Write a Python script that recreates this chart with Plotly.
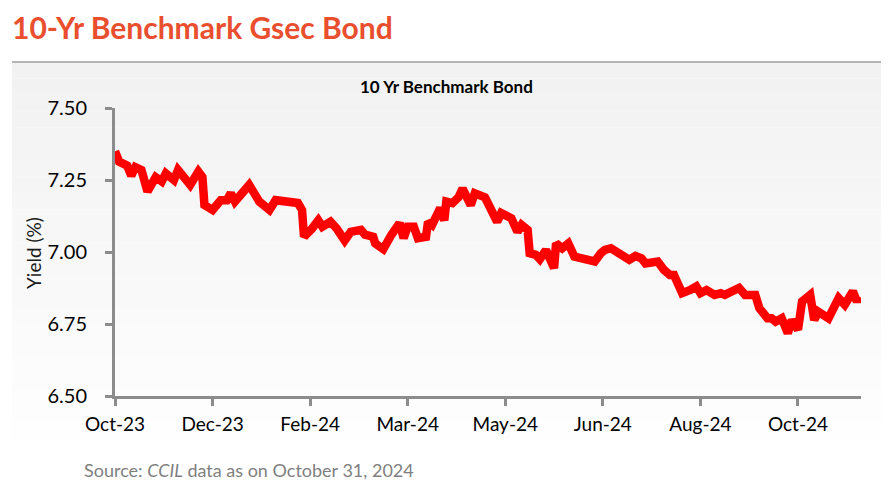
import plotly.graph_objects as go

dates = [
    "2023-10-31", "2023-11-02", "2023-11-06", "2023-11-08", "2023-11-10", "2023-11-13",
    "2023-11-16", "2023-11-20", "2023-11-23", "2023-11-25", "2023-11-29", "2023-12-01",
    "2023-12-07", "2023-12-11", "2023-12-13", "2023-12-14", "2023-12-18", "2023-12-22",
    "2023-12-25", "2023-12-27", "2023-12-29", "2024-01-05", "2024-01-10", "2024-01-15",
    "2024-01-18", "2024-01-23", "2024-01-29", "2024-01-31", "2024-02-01", "2024-02-05",
    "2024-02-08", "2024-02-10", "2024-02-14", "2024-02-17", "2024-02-21", "2024-02-24",
    "2024-02-27", "2024-02-29", "2024-03-02", "2024-03-06", "2024-03-07", "2024-03-11",
    "2024-03-15", "2024-03-19", "2024-03-21", "2024-03-23", "2024-03-26", "2024-03-28",
    "2024-04-01", "2024-04-02", "2024-04-04", "2024-04-08", "2024-04-10", "2024-04-11",
    "2024-04-14", "2024-04-17", "2024-04-19", "2024-04-23", "2024-04-25", "2024-04-30",
    "2024-05-06", "2024-05-08", "2024-05-13", "2024-05-16", "2024-05-18", "2024-05-21",
    "2024-05-22", "2024-05-25", "2024-05-27", "2024-05-30", "2024-06-03", "2024-06-04",
    "2024-06-07", "2024-06-10", "2024-06-13", "2024-06-19", "2024-06-23", "2024-06-26",
    "2024-06-28", "2024-07-01", "2024-07-05", "2024-07-10", "2024-07-13", "2024-07-16",
    "2024-07-18", "2024-07-22", "2024-07-24", "2024-07-27", "2024-07-30", "2024-08-01",
    "2024-08-05", "2024-08-09", "2024-08-12", "2024-08-14", "2024-08-17", "2024-08-21",
    "2024-08-24", "2024-08-26", "2024-08-29", "2024-09-02", "2024-09-05", "2024-09-10",
    "2024-09-12", "2024-09-16", "2024-09-18", "2024-09-20", "2024-09-23", "2024-09-26",
    "2024-09-28", "2024-10-01", "2024-10-03", "2024-10-07", "2024-10-09", "2024-10-11",
    "2024-10-16", "2024-10-18", "2024-10-21", "2024-10-24", "2024-10-28", "2024-10-30",
    "2024-10-31",
]

yields = [
    7.350, 7.314, 7.300, 7.265, 7.295, 7.285,
    7.210, 7.260, 7.245, 7.273, 7.250, 7.285,
    7.233, 7.279, 7.260, 7.163, 7.146, 7.180,
    7.180, 7.204, 7.175, 7.233, 7.175, 7.146,
    7.180, 7.175, 7.170, 7.146, 7.053, 7.082,
    7.110, 7.088, 7.105, 7.082, 7.040, 7.070,
    7.070, 7.077, 7.060, 7.053, 7.030, 7.010,
    7.060, 7.100, 7.048, 7.088, 7.088, 7.048,
    7.053, 7.105, 7.094, 7.152, 7.110, 7.175,
    7.170, 7.190, 7.220, 7.163, 7.204, 7.190,
    7.105, 7.135, 7.117, 7.070, 7.094, 7.077,
    6.996, 6.990, 6.975, 7.007, 6.944, 7.030,
    7.013, 7.030, 6.984, 6.978, 6.967, 6.996,
    7.007, 7.013, 6.996, 6.973, 6.986, 6.978,
    6.960, 6.962, 6.967, 6.938, 6.920, 6.920,
    6.857, 6.868, 6.880, 6.857, 6.868, 6.851,
    6.857, 6.851, 6.863, 6.875, 6.851, 6.851,
    6.805, 6.770, 6.770, 6.758, 6.770, 6.718,
    6.764, 6.730, 6.828, 6.851, 6.764, 6.793,
    6.770, 6.805, 6.840, 6.817, 6.863, 6.828,
    6.845,
]

y_ticks = [6.50, 6.75, 7.00, 7.25, 7.50]
y_tick_labels = ["6.50", "6.75", "7.00", "7.25", "7.50"]

title_text = "10-Yr Benchmark Gsec Bond"
subtitle_text = "10 Yr Benchmark Bond"
y_title = "Yield (%)"
source_text = "Source: <i>CCIL</i> data as on October 31, 2024"

# page body has an 8px margin; figure is sized to fill the rest of the window
OFF = 8
W, H = 891 - OFF, 501 - OFF
L, R, T, B = 115 - OFF, 891 - 861, 108 - OFF, 501 - 396
PW, PH = W - L - R, H - T - B


def px(x):
    return (x - OFF - L) / PW


def py(y):
    return (H - B - (y - OFF)) / PH


fig = go.Figure()
fig.add_trace(go.Scatter(
    x=dates, y=yields, mode="lines",
    line=dict(color="#FF0000", width=8.5),
    hoverinfo="skip", showlegend=False,
))

shapes = []
n = 24
top, bottom = 62, 455
for i in range(n):
    y0 = top + (bottom - top) * i / n
    y1 = top + (bottom - top) * (i + 1) / n
    f = i / (n - 1)
    c = int(242 + (255 - 242) * f)
    shapes.append(dict(type="rect", xref="paper", yref="paper", layer="below",
                       x0=px(12), x1=px(881), y0=py(y1), y1=py(y0),
                       fillcolor=f"rgb({c},{c},{c})", line=dict(width=0)))
shapes.append(dict(type="line", xref="paper", yref="paper", layer="below",
                   x0=px(12), x1=px(881), y0=py(62), y1=py(62),
                   line=dict(color="#b4b4b4", width=2)))

annotations = [
    dict(text=f"<b>{title_text}</b>", xref="paper", yref="paper",
         x=px(10), y=py(27), xanchor="left", yanchor="middle", showarrow=False,
         font=dict(family="Lato", size=30, color="#E94E2E")),
    dict(text=f"<b>{subtitle_text}</b>", xref="paper", yref="paper",
         x=px(446), y=py(87), xanchor="center", yanchor="middle", showarrow=False,
         font=dict(family="Lato", size=17, color="#000000")),
    dict(text=y_title, xref="paper", yref="paper", textangle=-90,
         x=px(33), y=py(253), xanchor="center", yanchor="middle", showarrow=False,
         font=dict(family="Lato", size=19, color="#1a1a1a")),
    dict(text=source_text, xref="paper", yref="paper",
         x=px(82), y=py(470), xanchor="left", yanchor="middle", showarrow=False,
         font=dict(family="Lato", size=18, color="#7f7f7f")),
]

fig.update_layout(
    width=W, height=H,
    margin=dict(l=L, r=R, t=T, b=B, pad=0),
    paper_bgcolor="white", plot_bgcolor="rgba(0,0,0,0)",
    shapes=shapes, annotations=annotations,
    xaxis=dict(
        type="date", range=["2023-10-31", "2024-11-01"],
        tick0="2023-10-31", dtick=48 * 86400000, tickformat="%b-%y",
        showgrid=False, zeroline=False,
        showline=True, linecolor="#8c8c8c", linewidth=3,
        ticks="outside", ticklen=7, tickwidth=3, tickcolor="#8c8c8c",
        tickfont=dict(family="Lato", size=19, color="#000000"),
        ticklabelstandoff=2,
        fixedrange=True,
    ),
    yaxis=dict(
        range=[6.5, 7.5], tickvals=y_ticks, ticktext=y_tick_labels,
        showgrid=False, zeroline=False,
        showline=True, linecolor="#8c8c8c", linewidth=3,
        ticks="outside", ticklen=7, tickwidth=3, tickcolor="#8c8c8c",
        tickfont=dict(family="Lato", size=20, color="#000000"),
        ticklabelstandoff=14,
        fixedrange=True,
    ),
)

fig.write_html("out.html")
